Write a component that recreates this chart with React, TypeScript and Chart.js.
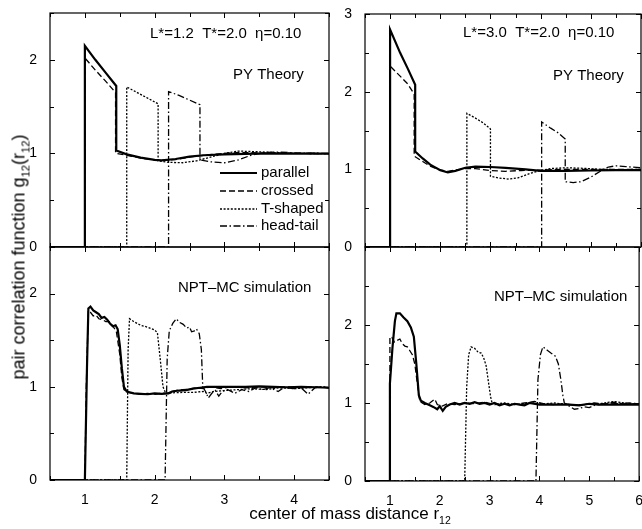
import React, { useEffect, useRef } from "react";
import { Chart, registerables } from "chart.js";
Chart.register(...registerables);

// ---------- data ----------
const seriesNames = ["parallel", "crossed", "T-shaped", "head-tail"];
const yTickStep = 0.5;
const xTickStep = 0.5;

// PY theory, L*=1.2
const tlParallel = [[0.5,0],[1.0,0],[1.0,2.15],[1.15,2.0],[1.3,1.86],[1.45,1.72],[1.45,1.03],[1.6,0.99],[1.8,0.955],[2.0,0.93],[2.1,0.925],[2.3,0.94],[2.5,0.965],[2.7,0.98],[3.0,0.99],[3.3,0.995],[3.6,1.0],[4.0,0.998],[4.5,0.998]];
const tlCrossed = [[0.5,0],[1.0,0],[1.0,2.02],[1.15,1.89],[1.3,1.77],[1.44,1.65],[1.44,1.0],[1.6,0.98],[1.8,0.95],[2.0,0.93],[2.1,0.925],[2.3,0.935],[2.5,0.96],[2.7,0.98],[3.0,1.0],[3.2,1.01],[3.5,1.005],[4.0,1.0],[4.5,0.998]];
const tlTshaped = [[0.5,0],[1.6,0],[1.6,1.71],[1.75,1.65],[1.9,1.59],[2.05,1.53],[2.05,0.92],[2.2,0.905],[2.4,0.9],[2.6,0.92],[2.8,0.96],[3.0,1.0],[3.2,1.025],[3.4,1.02],[3.7,1.01],[4.0,1.0],[4.5,0.998]];
const tlHeadTail = [[0.5,0],[2.2,0],[2.2,1.66],[2.35,1.62],[2.5,1.57],[2.65,1.52],[2.65,0.93],[2.8,0.91],[3.0,0.9],[3.2,0.93],[3.4,0.985],[3.6,1.01],[3.8,1.015],[4.0,1.005],[4.5,1.0]];

// PY theory, L*=3.0
const trParallel = [[0.5,0],[1.0,0],[1.0,2.8],[1.2,2.5],[1.35,2.3],[1.5,2.09],[1.5,1.23],[1.65,1.14],[1.8,1.06],[2.0,0.99],[2.15,0.96],[2.3,0.98],[2.5,1.02],[2.7,1.035],[3.0,1.03],[3.3,1.02],[3.7,1.0],[4.0,0.98],[4.5,0.98],[5.0,0.985],[5.5,0.99],[6.0,0.99]];
const trCrossed = [[0.5,0],[1.0,0],[1.0,2.33],[1.2,2.2],[1.35,2.1],[1.48,1.97],[1.48,1.17],[1.65,1.1],[1.8,1.04],[2.0,0.99],[2.15,0.975],[2.3,0.99],[2.5,1.01],[2.7,1.01],[3.0,0.985],[3.3,0.975],[3.6,0.985],[4.0,0.99],[4.5,1.0],[5.0,1.0],[5.5,1.0],[6.0,1.0]];
const trTshaped = [[0.5,0],[2.53,0],[2.53,1.72],[2.7,1.66],[2.85,1.6],[3.0,1.52],[3.0,0.91],[3.15,0.89],[3.35,0.875],[3.55,0.89],[3.8,0.95],[4.0,0.985],[4.2,1.01],[4.5,1.02],[4.8,1.015],[5.2,1.0],[5.6,0.995],[6.0,1.0]];
const trHeadTail = [[0.5,0],[4.02,0],[4.02,1.61],[4.2,1.53],[4.35,1.47],[4.49,1.39],[4.49,0.84],[4.65,0.83],[4.8,0.84],[5.0,0.9],[5.2,0.98],[5.35,1.03],[5.5,1.045],[5.7,1.035],[6.0,1.02]];

// NPT-MC simulation, L*=1.2
const blParallel = [[0.5,0],[1.0,0],[1.03,1.2],[1.05,1.84],[1.08,1.86],[1.12,1.82],[1.16,1.8],[1.2,1.78],[1.24,1.74],[1.28,1.75],[1.32,1.72],[1.36,1.68],[1.4,1.65],[1.44,1.66],[1.47,1.62],[1.5,1.45],[1.53,1.2],[1.56,1.0],[1.6,0.95],[1.7,0.93],[1.8,0.925],[1.9,0.92],[2.0,0.93],[2.1,0.925],[2.2,0.93],[2.25,0.95],[2.35,0.96],[2.45,0.965],[2.55,0.98],[2.65,0.99],[2.75,1.0],[2.9,1.0],[3.1,1.0],[3.3,1.0],[3.5,1.005],[3.7,1.0],[3.9,0.995],[4.1,1.0],[4.3,0.995],[4.5,0.99]];
const blCrossed = [[0.5,0],[1.0,0],[1.02,1.0],[1.05,1.82],[1.08,1.8],[1.12,1.76],[1.16,1.77],[1.2,1.73],[1.25,1.72],[1.3,1.7],[1.35,1.7],[1.4,1.65],[1.45,1.6],[1.5,1.35],[1.53,1.1],[1.56,0.97],[1.62,0.94],[1.7,0.93],[1.8,0.92],[1.9,0.93],[2.0,0.92],[2.1,0.93],[2.2,0.935],[2.3,0.96],[2.4,0.97],[2.5,0.975],[2.6,0.99],[2.7,0.98],[2.8,1.0],[2.95,0.98],[3.1,1.0],[3.3,0.99],[3.5,1.0],[3.7,0.99],[3.9,1.0],[4.1,0.99],[4.3,1.0],[4.5,0.99]];
const blTshaped = [[0.5,0],[1.6,0],[1.62,1.4],[1.64,1.73],[1.7,1.7],[1.8,1.66],[1.9,1.64],[2.0,1.61],[2.04,1.58],[2.08,1.3],[2.12,1.0],[2.16,0.93],[2.25,0.935],[2.4,0.94],[2.55,0.94],[2.7,0.95],[2.75,0.93],[2.85,0.95],[3.0,0.96],[3.2,0.97],[3.4,0.98],[3.6,0.97],[3.8,0.99],[4.0,0.98],[4.2,0.99],[4.4,1.0],[4.5,0.99]];
const blHeadTail = [[0.5,0],[2.15,0],[2.18,1.3],[2.21,1.6],[2.26,1.68],[2.31,1.73],[2.36,1.69],[2.41,1.67],[2.46,1.63],[2.5,1.64],[2.53,1.59],[2.57,1.6],[2.6,1.62],[2.64,1.57],[2.67,1.4],[2.69,1.0],[2.73,0.95],[2.77,0.88],[2.82,0.93],[2.87,0.96],[2.92,0.9],[2.97,0.95],[3.05,0.97],[3.15,0.93],[3.25,0.97],[3.35,0.95],[3.45,0.99],[3.55,0.97],[3.65,0.99],[3.77,0.95],[3.85,0.99],[4.0,0.98],[4.1,0.99],[4.2,0.92],[4.3,0.99],[4.4,1.0],[4.5,0.99]];

// NPT-MC simulation, L*=3.0
const brParallel = [[0.5,0],[1.0,0],[1.0,1.25],[1.05,1.7],[1.1,2.05],[1.13,2.15],[1.2,2.15],[1.27,2.1],[1.35,2.05],[1.42,1.97],[1.48,1.85],[1.53,1.5],[1.58,1.1],[1.62,1.03],[1.7,1.0],[1.8,0.97],[1.87,0.95],[1.95,0.92],[2.0,0.96],[2.06,0.9],[2.12,0.95],[2.2,0.98],[2.3,1.0],[2.4,0.98],[2.5,1.0],[2.6,0.99],[2.7,1.01],[2.8,0.99],[2.9,1.0],[3.0,0.98],[3.1,1.0],[3.2,0.97],[3.3,0.99],[3.4,0.97],[3.5,0.99],[3.6,0.98],[3.7,0.97],[3.8,1.0],[4.0,0.98],[4.2,0.98],[4.4,0.98],[4.6,0.98],[4.8,0.97],[5.0,0.99],[5.2,0.98],[5.4,0.98],[5.6,0.98],[5.8,0.98],[6.0,0.98]];
const brCrossed = [[0.5,0],[1.0,0],[1.0,1.85],[1.04,1.84],[1.09,1.78],[1.14,1.8],[1.2,1.82],[1.25,1.76],[1.3,1.73],[1.35,1.72],[1.4,1.67],[1.45,1.62],[1.5,1.5],[1.55,1.25],[1.6,1.02],[1.7,0.98],[1.8,1.0],[1.9,1.05],[1.95,0.98],[2.05,0.96],[2.15,0.99],[2.3,0.98],[2.5,1.0],[2.7,0.99],[2.9,1.01],[3.1,0.98],[3.3,0.99],[3.5,0.98],[3.7,1.0],[3.9,1.02],[4.1,0.99],[4.3,0.98],[4.5,0.99],[4.7,0.97],[4.9,0.98],[5.1,1.0],[5.3,0.99],[5.5,1.01],[5.7,0.99],[6.0,0.99]];
const brTshaped = [[0.5,0],[2.5,0],[2.54,1.2],[2.58,1.62],[2.63,1.72],[2.7,1.7],[2.77,1.65],[2.83,1.64],[2.88,1.58],[2.93,1.48],[2.97,1.3],[3.02,1.08],[3.05,1.0],[3.15,0.99],[3.3,1.0],[3.5,0.98],[3.7,0.99],[3.9,1.0],[4.1,0.99],[4.3,1.0],[4.6,0.98],[4.9,0.98],[5.2,0.99],[5.5,1.02],[5.8,0.99],[6.0,0.99]];
const brHeadTail = [[0.5,0],[3.93,0],[3.97,1.3],[4.02,1.62],[4.07,1.72],[4.15,1.68],[4.23,1.64],[4.32,1.6],[4.38,1.5],[4.43,1.3],[4.47,1.1],[4.5,1.0],[4.6,0.96],[4.7,0.92],[4.8,0.93],[4.9,0.95],[5.0,0.94],[5.1,0.97],[5.2,0.98],[5.4,1.0],[5.6,0.99],[5.8,1.0],[6.0,0.99]];

const textParamsShort = "L*=1.2  T*=2.0  η=0.10";
const textParamsLong = "L*=3.0  T*=2.0  η=0.10";
const textTheory = "PY Theory";
const textSim = "NPT–MC simulation";

// ---------- styling ----------
const FONT = '"Liberation Sans", Arial, Helvetica, sans-serif';
const lineStyles = [
  { borderWidth: 2.2, borderDash: [] as number[] },
  { borderWidth: 1.3, borderDash: [6, 3] },
  { borderWidth: 1.3, borderDash: [2, 1.6] },
  { borderWidth: 1.3, borderDash: [7, 2.5, 1.5, 2.5] },
];

type Area = { l: number; t: number; r: number; b: number };
type Txt = { text: string; dx: number; dy: number };
type PanelCfg = {
  area: Area;
  xMin: number;
  xMax: number;
  yMax: number;
  series: number[][][];
  xLabels: boolean;
  hideTopLabel: boolean;
  texts: Txt[];
  legend: boolean;
};

const panels: PanelCfg[] = [
  {
    area: { l: 50, t: 13, r: 329, b: 247 }, xMin: 0.5, xMax: 4.5, yMax: 2.5,
    series: [tlParallel, tlCrossed, tlTshaped, tlHeadTail], xLabels: false, hideTopLabel: false,
    texts: [{ text: textParamsShort, dx: 100, dy: 21 }, { text: textTheory, dx: 183, dy: 62 }], legend: true,
  },
  {
    area: { l: 365, t: 14, r: 641, b: 247 }, xMin: 0.5, xMax: 6, yMax: 3,
    series: [trParallel, trCrossed, trTshaped, trHeadTail], xLabels: false, hideTopLabel: false,
    texts: [{ text: textParamsLong, dx: 98, dy: 19 }, { text: textTheory, dx: 188, dy: 62 }], legend: false,
  },
  {
    area: { l: 50, t: 247, r: 329, b: 480 }, xMin: 0.5, xMax: 4.5, yMax: 2.5,
    series: [blParallel, blCrossed, blTshaped, blHeadTail], xLabels: true, hideTopLabel: true,
    texts: [{ text: textSim, dx: 128, dy: 41 }], legend: false,
  },
  {
    area: { l: 365, t: 247, r: 641, b: 481 }, xMin: 0.5, xMax: 6, yMax: 3,
    series: [brParallel, brCrossed, brTshaped, brHeadTail], xLabels: true, hideTopLabel: true,
    texts: [{ text: textSim, dx: 129, dy: 50 }], legend: false,
  },
];

const Y_W = 48;
const PAD_R = 6;
const PAD_T = 22;

function Panel({ cfg }: { cfg: PanelCfg }) {
  const ref = useRef<HTMLCanvasElement>(null);
  const a = cfg.area;
  const left = a.l - Y_W;
  const top = a.t - PAD_T;
  const xH = cfg.xLabels ? 26 : 22;
  const width = a.r - a.l + Y_W + PAD_R;
  const height = a.b - top + xH;

  useEffect(() => {
    if (!ref.current) return;
    const framePlugin = {
      id: "frameTicks",
      afterDraw(chart: any) {
        const { ctx, chartArea: ca, scales } = chart;
        const xs = scales.x, ys = scales.y;
        ctx.save();
        ctx.setLineDash([]);
        ctx.strokeStyle = "#000";
        ctx.lineWidth = 1.2;
        ctx.strokeRect(ca.left, ca.top, ca.right - ca.left, ca.bottom - ca.top);
        ctx.lineWidth = 1;
        ctx.beginPath();
        xs.ticks.forEach((t: any) => {
          const p = Math.round(xs.getPixelForValue(t.value)) + 0.5;
          const L = Number.isInteger(t.value) ? 5 : 4;
          ctx.moveTo(p, ca.bottom); ctx.lineTo(p, ca.bottom - L);
          ctx.moveTo(p, ca.top); ctx.lineTo(p, ca.top + L);
        });
        ys.ticks.forEach((t: any) => {
          const p = Math.round(ys.getPixelForValue(t.value)) + 0.5;
          const L = Number.isInteger(t.value) ? 5 : 4;
          ctx.moveTo(ca.left, p); ctx.lineTo(ca.left + L, p);
          ctx.moveTo(ca.right, p); ctx.lineTo(ca.right - L, p);
        });
        ctx.stroke();

        ctx.fillStyle = "#000";
        ctx.font = `15px ${FONT}`;
        ctx.textBaseline = "middle";
        ctx.textAlign = "left";
        cfg.texts.forEach((tx) => ctx.fillText(tx.text, ca.left + tx.dx, ca.top + tx.dy));

        if (cfg.legend) {
          const rows = [160, 178, 196, 213];
          seriesNames.forEach((name, i) => {
            const y = ca.top + rows[i];
            ctx.beginPath();
            ctx.lineWidth = lineStyles[i].borderWidth;
            ctx.setLineDash(lineStyles[i].borderDash);
            ctx.moveTo(ca.left + 170, y);
            ctx.lineTo(ca.left + 207, y);
            ctx.stroke();
            ctx.setLineDash([]);
            ctx.fillText(name, ca.left + 211, y);
          });
        }
        ctx.restore();
      },
    };

    const chart = new Chart(ref.current, {
      type: "line",
      data: {
        datasets: cfg.series.map((pts, i) => ({
          label: seriesNames[i],
          data: pts.map(([x, y]) => ({ x, y })),
          borderColor: "#000",
          backgroundColor: "#000",
          borderWidth: lineStyles[i].borderWidth,
          borderDash: lineStyles[i].borderDash,
          pointRadius: 0,
          fill: false,
          tension: 0,
        })),
      },
      options: {
        animation: false,
        responsive: false,
        layout: { padding: { top: PAD_T, right: PAD_R, left: 0, bottom: 0 } },
        plugins: { legend: { display: false }, tooltip: { enabled: false } },
        scales: {
          x: {
            type: "linear",
            min: cfg.xMin,
            max: cfg.xMax,
            grid: { display: false },
            border: { display: false },
            ticks: {
              stepSize: xTickStep,
              autoSkip: false,
              maxRotation: 0,
              padding: 4,
              color: "#000",
              font: { family: FONT, size: 14 },
              callback: (v: any) => (cfg.xLabels && Number.isInteger(v) ? String(v) : ""),
            },
            afterFit: (s: any) => { s.height = xH; },
          },
          y: {
            type: "linear",
            min: 0,
            max: cfg.yMax,
            grid: { display: false },
            border: { display: false },
            ticks: {
              stepSize: yTickStep,
              autoSkip: false,
              padding: 5,
              color: "#000",
              font: { family: FONT, size: 14 },
              callback: (v: any) =>
                Number.isInteger(v) && !(cfg.hideTopLabel && v === cfg.yMax) ? String(v) : "",
            },
            afterFit: (s: any) => { s.width = Y_W; },
          },
        },
      } as any,
      plugins: [framePlugin],
    });
    return () => chart.destroy();
  }, []);

  return (
    <canvas
      ref={ref}
      width={width}
      height={height}
      style={{ position: "absolute", left, top, width, height }}
    />
  );
}

export default function App() {
  const subStyle: React.CSSProperties = { fontSize: "0.62em", verticalAlign: "-0.45em", lineHeight: 0 };
  return (
    <div
      style={{
        position: "absolute", left: 0, top: 0, width: 642, height: 529,
        overflow: "hidden", background: "#fff", fontFamily: FONT, color: "#000",
      }}
    >
      {panels.map((p, i) => <Panel key={i} cfg={p} />)}
      <div
        style={{
          position: "absolute", left: 19, top: 257, whiteSpace: "nowrap", fontSize: 18,
          transform: "translate(-50%, -50%) rotate(-90deg)",
        }}
      >
        pair correlation function g<span style={subStyle}>12</span>(r<span style={subStyle}>12</span>)
      </div>
      <div
        style={{
          position: "absolute", left: 350, top: 514, whiteSpace: "nowrap", fontSize: 17,
          transform: "translate(-50%, -50%)",
        }}
      >
        center of mass distance r<span style={subStyle}>12</span>
      </div>
    </div>
  );
}
